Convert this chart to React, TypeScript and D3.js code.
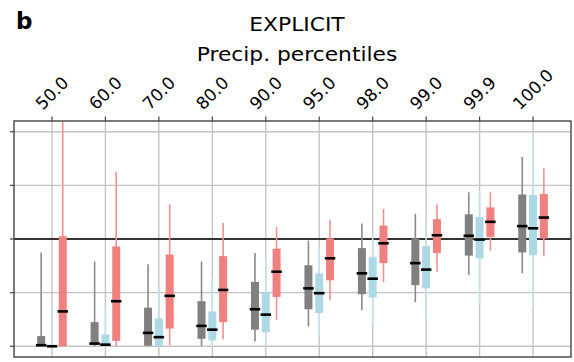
import React from 'react';
import * as d3 from 'd3';

// precipitation percentiles (x categories)
const percentiles = ['50.0', '60.0', '70.0', '80.0', '90.0', '95.0', '98.0', '99.0', '99.9', '100.0'];

// each entry: [whisker low, q1, median, q3, whisker high]
const grayBoxes = [
    [-2.0, -2.0, -1.98, -1.81, -0.25],
    [-2.0, -1.96, -1.95, -1.55, -0.42],
    [-2.0, -1.99, -1.75, -1.28, -0.47],
    [-1.99, -1.86, -1.62, -1.16, -0.42],
    [-1.91, -1.69, -1.31, -0.8, -0.26],
    [-1.63, -1.31, -0.92, -0.49, -0.03],
    [-1.33, -1.03, -0.64, -0.17, 0.29],
    [-1.18, -0.86, -0.45, 0.01, 0.47],
    [-0.67, -0.31, 0.06, 0.46, 0.87],
    [-0.64, -0.25, 0.24, 0.83, 1.53],
];
const blueBoxes = [
    [-2.0, -2.0, -2.0, -1.97, -1.27],
    [-2.0, -1.99, -1.97, -1.78, -1.25],
    [-2.0, -1.99, -1.83, -1.48, -0.9],
    [-2.0, -1.89, -1.69, -1.35, -0.7],
    [-2.0, -1.74, -1.41, -1.0, -0.35],
    [-1.8, -1.38, -1.01, -0.64, -0.15],
    [-1.6, -1.09, -0.74, -0.34, 0.1],
    [-1.5, -0.92, -0.57, -0.13, 0.3],
    [-1.2, -0.36, -0.01, 0.41, 0.9],
    [-1.3, -0.3, 0.2, 0.82, 2.0],
];
const redBoxes = [
    [-2.0, -2.0, -1.35, 0.05, 2.5],
    [-2.0, -1.9, -1.16, -0.14, 1.25],
    [-1.98, -1.67, -1.06, -0.29, 0.65],
    [-1.87, -1.55, -0.95, -0.32, 0.3],
    [-1.51, -1.08, -0.61, -0.18, 0.23],
    [-1.14, -0.77, -0.36, 0.01, 0.36],
    [-0.8, -0.45, -0.08, 0.25, 0.56],
    [-0.61, -0.26, 0.07, 0.37, 0.65],
    [-0.22, 0.04, 0.32, 0.59, 0.87],
    [-0.32, 0.01, 0.4, 0.84, 1.32],
];
const yTicks = [-2, -1, 0, 1, 2];

const series = [
    { name: 'gray', color: '#808080', whisker: '#8a8a8a', offset: -1, boxes: grayBoxes },
    { name: 'blue', color: '#add8e6', whisker: '#c3e2ec', offset: 0, boxes: blueBoxes },
    { name: 'red', color: '#f08080', whisker: '#f39090', offset: 1, boxes: redBoxes },
];

const W = 574, H = 362;
const left = 14, right = 571, top = 121, bottom = 357;

// rough DejaVu Sans advance widths, used to sit rotated labels on the axis
const labelWidth = (s: string, fs: number) =>
    s.split('').reduce((a, c) => a + (c === '.' ? 0.318 : 0.636), 0) * fs;

const App = () => {
    const x = d3.scalePoint<string>().domain(percentiles).range([left, right]).padding(0.71);
    const y = d3.scaleLinear().domain([-2.2, 2.2]).range([bottom, top]);
    const shift = 10.8;
    const boxW = 8;
    const medW = 10.5;

    return (
        <svg width={W} height={H} style={{ position: 'absolute', left: 0, top: 0, background: '#fff' }}
            fontFamily="DejaVu Sans, sans-serif">
            <defs>
                <clipPath id="plotclip">
                    <rect x={left} y={top} width={right - left} height={bottom - top} />
                </clipPath>
            </defs>
            <text x={16} y={29} fontSize={23} fontWeight="bold">b</text>
            <g transform="translate(297,0) scale(1.09,1)">
                <text x={0} y={31} fontSize={20} textAnchor="middle">EXPLICIT</text>
                <text x={0} y={61} fontSize={20} textAnchor="middle">Precip. percentiles</text>
            </g>

            {/* grid */}
            {yTicks.map(t => (
                <line key={'gy' + t} x1={left} x2={right} y1={y(t)} y2={y(t)} stroke="#c4c4c4" strokeWidth={1.4} />
            ))}
            {percentiles.map(p => (
                <line key={'gx' + p} x1={x(p)} x2={x(p)} y1={top} y2={bottom} stroke="#c4c4c4" strokeWidth={1.4} />
            ))}
            <line x1={left} x2={right} y1={y(0)} y2={y(0)} stroke="#333" strokeWidth={2} />

            <g clipPath="url(#plotclip)">
                {series.map(s => s.boxes.map((b, i) => {
                    const cx = (x(percentiles[i]) as number) + s.offset * shift;
                    const [lo, q1, med, q3, hi] = b;
                    return (
                        <g key={s.name + i}>
                            <line x1={cx} x2={cx} y1={y(lo)} y2={y(hi)} stroke={s.whisker} strokeWidth={1.6} />
                            <rect x={cx - boxW / 2} y={y(q3)} width={boxW} height={Math.max(1, y(q1) - y(q3))} fill={s.color} />
                            <line x1={cx - medW / 2} x2={cx + medW / 2} y1={y(med)} y2={y(med)} stroke="#000" strokeWidth={2.6} />
                        </g>
                    );
                }))}
            </g>

            {/* frame + ticks */}
            <rect x={left} y={top} width={right - left} height={bottom - top} fill="none" stroke="#444" strokeWidth={1.4} />
            {yTicks.map(t => (
                <line key={'ty' + t} x1={left - 4} x2={left} y1={y(t)} y2={y(t)} stroke="#444" strokeWidth={1.2} />
            ))}
            {percentiles.map(p => (
                <line key={'tx' + p} x1={x(p)} x2={x(p)} y1={top - 4.5} y2={top} stroke="#444" strokeWidth={1.2} />
            ))}
            {percentiles.map(p => {
                const fs = 17;
                const half = (labelWidth(p, fs) + 0.75 * fs) / (2 * Math.SQRT2);
                return (
                    <text key={'lx' + p} transform={`translate(${x(p)},${111 - half}) rotate(-45)`}
                        fontSize={fs} textAnchor="middle" dominantBaseline="central">{p}</text>
                );
            })}
        </svg>
    );
};

export default App;
